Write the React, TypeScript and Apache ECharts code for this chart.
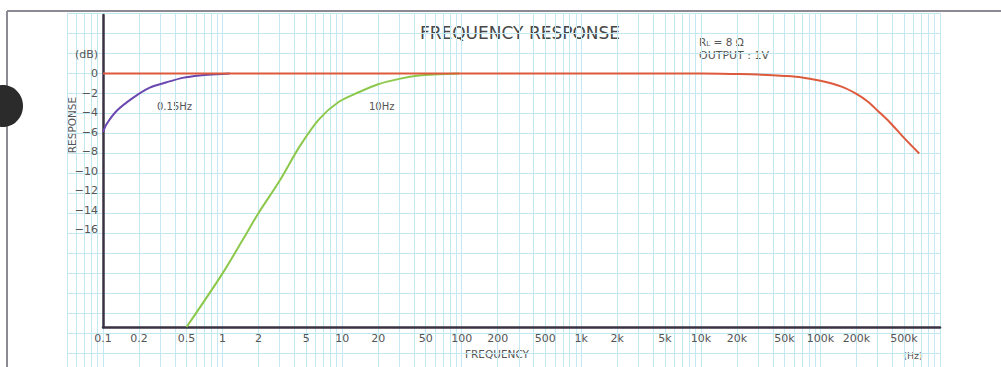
import React, { useEffect, useRef } from 'react';
import * as echarts from 'echarts';

// x-axis tick labels (Hz)
const xTickValues = [0.1, 0.2, 0.5, 1, 2, 5, 10, 20, 50, 100, 200, 500, 1e3, 2e3, 5e3, 1e4, 2e4, 5e4, 1e5, 2e5, 5e5];
const xTickLabels = ['0.1', '0.2', '0.5', '1', '2', '5', '10', '20', '50', '100', '200', '500', '1k', '2k', '5k', '10k', '20k', '50k', '100k', '200k', '500k'];

// y-axis tick labels (dB)
const yTickValues = [0, -2, -4, -6, -8, -10, -12, -14, -16];

// red: wide-band response
const redFreq = [0.1, 1e4, 2e4, 3e4, 5e4, 7e4, 1e5, 1.5e5, 2e5, 2.5e5, 3e5, 3.8e5, 5e5, 6.7e5];
const redDb = [0, 0, -0.05, -0.1, -0.25, -0.4, -0.75, -1.35, -2.1, -2.9, -3.8, -5.0, -6.6, -8.2];

// purple: 0.15 Hz low cut
const purpleFreq = [0.1, 0.107, 0.131, 0.178, 0.246, 0.341, 0.464, 0.643, 0.891, 1.15];
const purpleDb = [-6, -5.2, -3.8, -2.5, -1.45, -0.9, -0.45, -0.2, -0.08, 0];

// green: 10 Hz low cut
const greenFreq = [0.5, 1, 1.5, 2, 3, 4.4, 6.4, 9.4, 13.9, 20, 30, 44, 64, 95];
const greenDb = [-26, -20.5, -16.9, -14.3, -11.0, -7.5, -4.7, -2.9, -1.9, -1.1, -0.55, -0.2, -0.08, 0];

// graph paper lines (Hz), 1..9 per decade
const paperDecades = [0.01, 0.1, 1, 10, 100, 1e3, 1e4, 1e5];
const paperMultipliers = [1, 2, 3, 4, 5, 6, 7, 8, 9];

const FONT = '"DejaVu Sans", "Liberation Sans", Arial, sans-serif';
const TXT = '#555555';
const AXIS = '#3a3242';
const PAPER = '#c4e8f1';

export default function App() {
  const ref = useRef<HTMLDivElement>(null);
  useEffect(() => {
    if (!ref.current) return;
    const chart = echarts.init(ref.current, undefined, { renderer: 'svg' });

    const paperX: number[] = [];
    paperDecades.forEach((d) => paperMultipliers.forEach((m) => {
      const v = Math.log10(d * m);
      if (v >= Math.log10(0.05) - 1e-9 && v <= 6 + 1e-9) paperX.push(v);
    }));
    paperX.push(6);

    const logTicks = xTickValues.map((v) => Math.log10(v));
    const fmtX = (val: number) => {
      const i = logTicks.findIndex((t) => Math.abs(t - val) < 1e-6);
      return i >= 0 ? xTickLabels[i] : '';
    };
    const fmtY = (val: number) => {
      if (val === 2) return '(dB)';
      if (yTickValues.indexOf(val) < 0) return '';
      return val === 0 ? '0' : '\u2212' + Math.abs(val);
    };

    const mk = (f: number[], d: number[]) => f.map((x, i) => [x, d[i]]);

    chart.setOption({
      animation: false,
      backgroundColor: '#ffffff',
      grid: [
        { left: 67, right: 61, top: 13, bottom: 0 },
        { left: 103, right: 61, top: 15, bottom: 40 },
      ],
      xAxis: [
        {
          gridIndex: 0, type: 'value', min: Math.log10(0.05), max: 6,
          axisLine: { show: false }, axisLabel: { show: false },
          axisTick: { show: false, customValues: paperX },
          splitLine: { show: true, lineStyle: { color: PAPER, width: 1 } },
        },
        {
          gridIndex: 1, type: 'log', logBase: 10, min: 0.1, max: 1e6, position: 'bottom',
          axisLine: { show: true, onZero: false, lineStyle: { color: AXIS, width: 2.5 } },
          axisLabel: { show: false }, axisTick: { show: false }, splitLine: { show: false },
        },
        {
          gridIndex: 1, type: 'value', min: -1, max: 6, position: 'bottom',
          axisLine: { show: false, onZero: false }, axisTick: { show: false },
          splitLine: { show: false },
          axisLabel: {
            show: true, customValues: logTicks, formatter: fmtX, margin: 6,
            color: TXT, fontSize: 11, fontFamily: FONT, hideOverlap: false,
            showMinLabel: true, showMaxLabel: true,
          },
        },
      ],
      yAxis: [
        {
          gridIndex: 0, type: 'value', inverse: true, min: 0, max: 354, interval: 20,
          axisLine: { show: false }, axisLabel: { show: false }, axisTick: { show: false },
          splitLine: { show: true, lineStyle: { color: PAPER, width: 1 } },
        },
        {
          gridIndex: 1, type: 'value', min: -26, max: 6, interval: 2,
          axisLine: { show: true, onZero: false, lineStyle: { color: AXIS, width: 2.5 } },
          axisTick: { show: false }, splitLine: { show: false },
          axisLabel: {
            formatter: fmtY, color: TXT, fontSize: 11, fontFamily: FONT, margin: 5,
            showMinLabel: true, showMaxLabel: true,
          },
        },
      ],
      series: [
        {
          type: 'line', name: '10Hz', xAxisIndex: 1, yAxisIndex: 1, data: mk(greenFreq, greenDb),
          smooth: 0.3, showSymbol: false, symbol: 'none',
          lineStyle: { color: '#8cc84b', width: 2 }, z: 3,
        },
        {
          type: 'line', name: '0.15Hz', xAxisIndex: 1, yAxisIndex: 1, data: mk(purpleFreq, purpleDb),
          smooth: 0.3, showSymbol: false, symbol: 'none',
          lineStyle: { color: '#6a48b0', width: 2 }, z: 3,
        },
        {
          type: 'line', name: 'response', xAxisIndex: 1, yAxisIndex: 1, data: mk(redFreq, redDb),
          smooth: 0.3, showSymbol: false, symbol: 'none',
          lineStyle: { color: '#de5a3c', width: 2 }, z: 4,
        },
      ],
      graphic: [
        { type: 'line', shape: { x1: 7, y1: 11, x2: 1001, y2: 11 }, style: { stroke: '#8e8a94', lineWidth: 2 } },
        { type: 'line', shape: { x1: 7, y1: 11, x2: 7, y2: 367 }, style: { stroke: '#8e8a94', lineWidth: 2 } },
        { type: 'ellipse', shape: { cx: 3, cy: 106, rx: 20, ry: 21 }, style: { fill: '#2b2b2b' } },
        {
          type: 'text', x: 520, y: 33,
          style: { text: 'FREQUENCY RESPONSE', fill: '#474747', font: `500 17px ${FONT}`, textAlign: 'center', textVerticalAlign: 'middle' },
        },
        {
          type: 'text', x: 699, y: 42,
          style: {
            text: '{r|R}{s|L}{r| = 8 \u03a9}', textAlign: 'left', textVerticalAlign: 'middle',
            rich: {
              r: { fill: TXT, color: TXT, fontSize: 10.5, fontFamily: FONT },
              s: { fill: TXT, color: TXT, fontSize: 7, fontFamily: FONT, padding: [4, 0, 0, 0] },
            },
          },
        },
        {
          type: 'text', x: 699, y: 55,
          style: { text: 'OUTPUT : 1V', fill: TXT, font: `11px ${FONT}`, textAlign: 'left', textVerticalAlign: 'middle' },
        },
        {
          type: 'text', x: 157, y: 106,
          style: { text: '0.15Hz', fill: TXT, font: `10px ${FONT}`, textAlign: 'left', textVerticalAlign: 'middle' },
        },
        {
          type: 'text', x: 369, y: 106,
          style: { text: '10Hz', fill: TXT, font: `10px ${FONT}`, textAlign: 'left', textVerticalAlign: 'middle' },
        },
        {
          type: 'text', x: 72, y: 125, rotation: Math.PI / 2,
          style: { text: 'RESPONSE', fill: TXT, font: `10.5px ${FONT}`, textAlign: 'center', textVerticalAlign: 'middle' },
        },
        {
          type: 'text', x: 497, y: 354,
          style: { text: 'FREQUENCY', fill: TXT, font: `10.5px ${FONT}`, textAlign: 'center', textVerticalAlign: 'middle' },
        },
        {
          type: 'text', x: 913, y: 355,
          style: { text: '(Hz)', fill: TXT, font: `9.5px ${FONT}`, textAlign: 'center', textVerticalAlign: 'middle' },
        },
      ],
    });
    return () => chart.dispose();
  }, []);
  return <div ref={ref} style={{ position: 'fixed', left: 0, top: 0, width: 1001, height: 367 }} />;
}
